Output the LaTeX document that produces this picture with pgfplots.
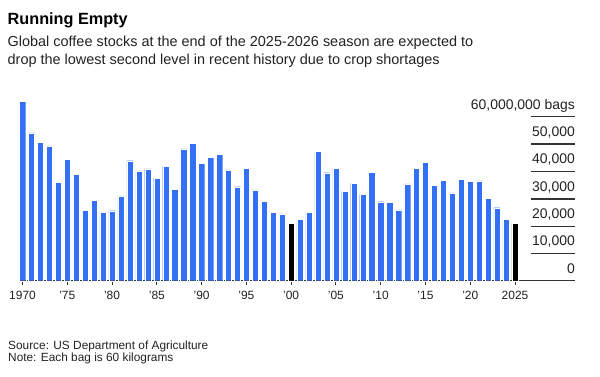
\documentclass[border=0pt]{standalone}
\usepackage{fontspec}
\setmainfont{Liberation Sans}
\usepackage{pgfplots}
\pgfplotsset{compat=1.18}
\usepackage{pgfplotstable}
\definecolor{barblue}{HTML}{3370F5}
\definecolor{txt}{HTML}{222222}
\definecolor{gridc}{HTML}{333333}
\pgfplotstableread{
year value
1970 65500
1971 54100
1972 50500
1973 49300
1974 35900
1975 44400
1976 39000
1977 25700
1978 29500
1979 25100
1980 25600
1981 31000
1982 43900
1983 40200
1984 40900
1985 37400
1986 41800
1987 33400
1988 48200
1989 50200
1990 42900
1991 45100
1992 46300
1993 40500
1994 34400
1995 41200
1996 33200
1997 29100
1998 24900
1999 24400
2001 22400
2002 25100
2003 47300
2004 39500
2005 41100
2006 32700
2007 35700
2008 31500
2009 39600
2010 28900
2011 28700
2012 25900
2013 35400
2014 41200
2015 43300
2016 35000
2017 36800
2018 32100
2019 37200
2020 36300
2021 36500
2022 30100
2023 26700
2024 22400
}\bluedata
\pgfplotstableread{
year value
2000 21000
2025 21000
}\blackdata
\begin{document}
\begin{tikzpicture}
\path[use as bounding box] (0,0) rectangle (600bp,-377bp);
\node[anchor=base west, inner sep=0pt, font=\bfseries\fontsize{16.3}{18}\selectfont] at (7.5bp,-24bp) {Running Empty};
\node[anchor=base west, inner sep=0pt, text=txt, font=\fontsize{14.5}{16}\selectfont] at (7.5bp,-46.7bp) {Global coffee stocks at the end of the 2025-2026 season are expected to};
\node[anchor=base west, inner sep=0pt, text=txt, font=\fontsize{14.5}{16}\selectfont] at (7.5bp,-64.3bp) {drop the lowest second level in recent history due to crop shortages};
\node[anchor=base west, inner sep=0pt, text=txt, font=\fontsize{11.9}{13}\selectfont] at (8bp,-349.3bp) {Source: US Department of Agriculture};
\node[anchor=base west, inner sep=0pt, text=txt, font=\fontsize{11.9}{13}\selectfont] at (8bp,-361.7bp) {Note: Each bag is 60 kilograms};
\begin{axis}[
  at={(19.3bp,-280.7bp)}, anchor=south west,
  scale only axis, width=555.7bp, height=185.9bp,
  xmin=1969.64, xmax=2031.7, ymin=0, ymax=68000,
  clip=false,
  axis x line=bottom, axis y line=none,
  x axis line style={-, color=gridc, line width=1bp},
  xtick={1970,1975,...,2025},
  xticklabels={1970,'75,'80,'85,'90,'95,'00,'05,'10,'15,'20,2025},
  tick align=outside, major tick length=4bp,
  xtick style={color=gridc, line width=1bp},
  xticklabel style={font=\fontsize{12}{13}\selectfont, text=txt, anchor=north, inner sep=0pt, yshift=-6bp},
  ybar, bar width=0.7, bar shift=0pt,
]
\addplot[fill=barblue, draw=white, line width=0.3bp] table[x=year,y=value] {\bluedata};
\addplot[fill=black, draw=white, line width=0.3bp] table[x=year,y=value] {\blackdata};
\node[anchor=base east, inner sep=0pt, text=txt, font=\fontsize{14}{15}\selectfont] at ([yshift=7.5bp]axis cs:2031.7,0) {0};
\node[anchor=base east, inner sep=0pt, text=txt, font=\fontsize{14}{15}\selectfont] at ([yshift=7.5bp]axis cs:2031.7,10000) {10,000};
\node[anchor=base east, inner sep=0pt, text=txt, font=\fontsize{14}{15}\selectfont] at ([yshift=7.5bp]axis cs:2031.7,20000) {20,000};
\node[anchor=base east, inner sep=0pt, text=txt, font=\fontsize{14}{15}\selectfont] at ([yshift=7.5bp]axis cs:2031.7,30000) {30,000};
\node[anchor=base east, inner sep=0pt, text=txt, font=\fontsize{14}{15}\selectfont] at ([yshift=7.5bp]axis cs:2031.7,40000) {40,000};
\node[anchor=base east, inner sep=0pt, text=txt, font=\fontsize{14}{15}\selectfont] at ([yshift=7.5bp]axis cs:2031.7,50000) {50,000};
\node[anchor=base east, inner sep=0pt, text=txt, font=\fontsize{14}{15}\selectfont] at ([yshift=7.5bp]axis cs:2031.7,60000) {60,000,000 bags};
\end{axis}
\fill[gridc] (531bp,-254.3bp) rectangle (575bp,-253.1bp);
\fill[gridc] (531bp,-226.9bp) rectangle (575bp,-225.7bp);
\fill[gridc] (531bp,-199.6bp) rectangle (575bp,-198.4bp);
\fill[gridc] (531bp,-171.9bp) rectangle (575bp,-170.7bp);
\fill[gridc] (531bp,-144.6bp) rectangle (575bp,-143.4bp);
\fill[gridc] (531bp,-117.4bp) rectangle (575bp,-116.2bp);
\end{tikzpicture}
\end{document}
